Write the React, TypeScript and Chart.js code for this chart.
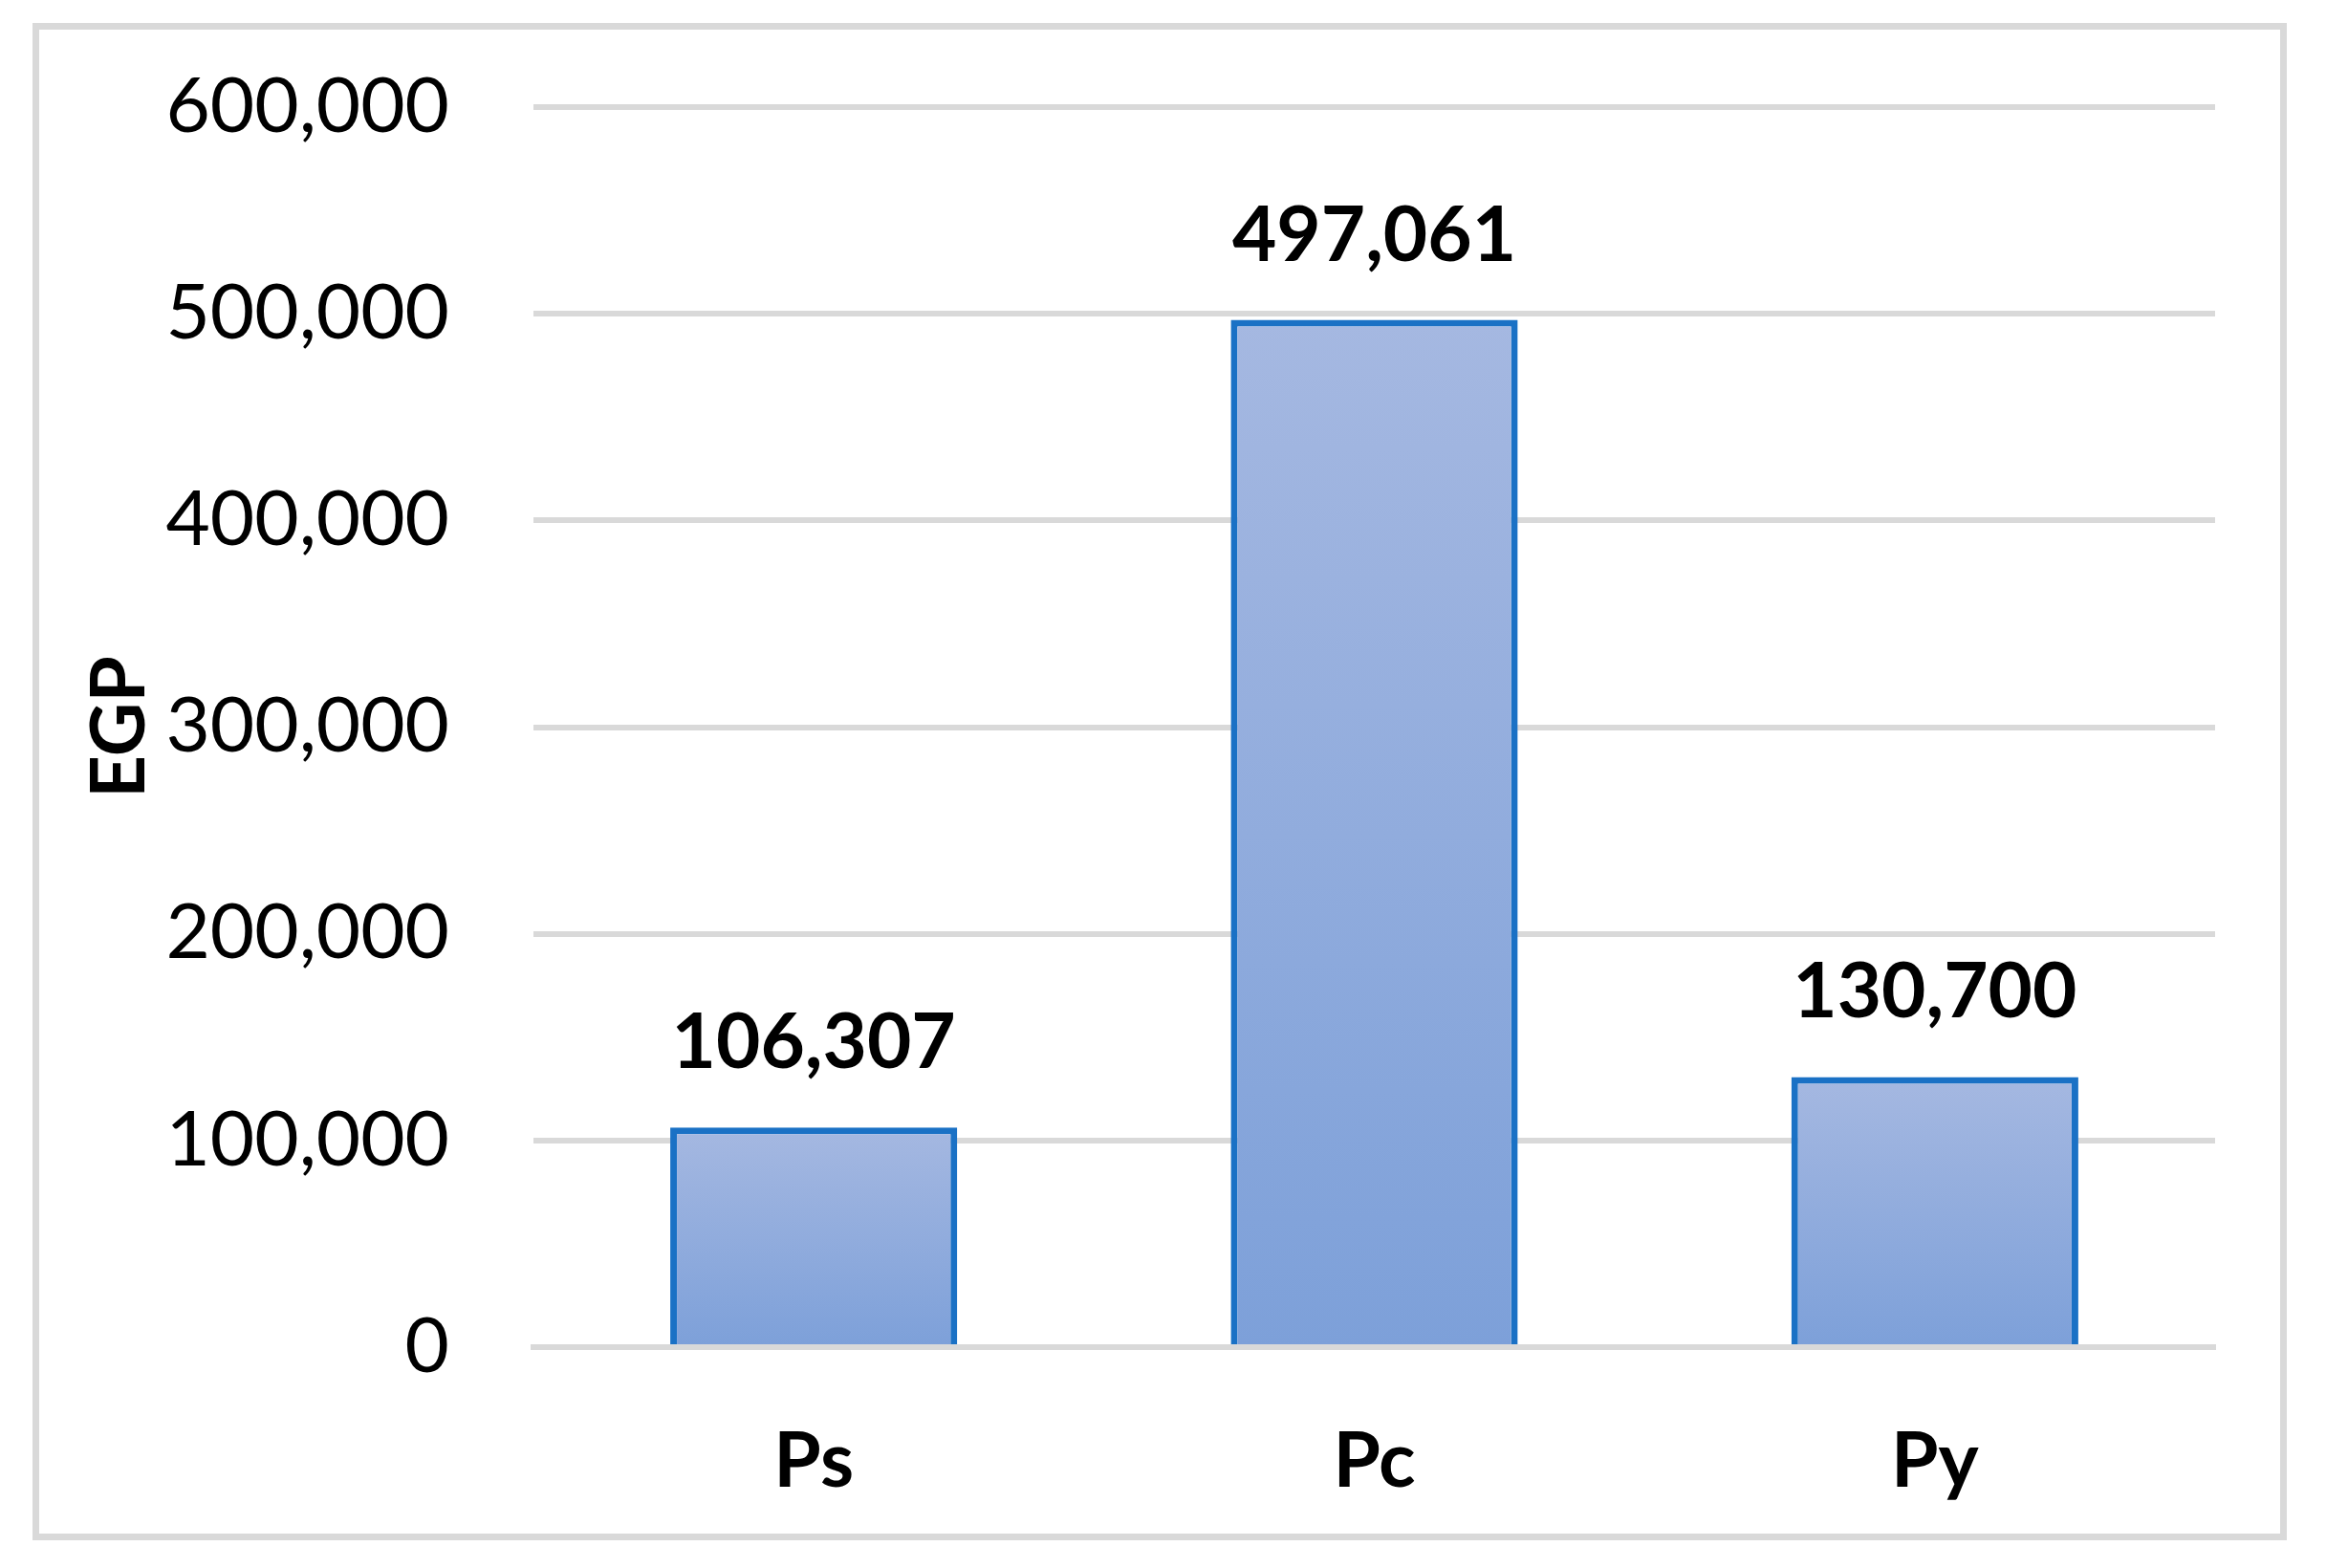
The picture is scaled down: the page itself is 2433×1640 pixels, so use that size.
import React, { useEffect, useRef } from "react";
import { Chart, registerables } from "chart.js";

Chart.register(...registerables);

const categories = ["Ps", "Pc", "Py"];
const values = [106307, 497061, 130700];
const yTicks = [0, 100000, 200000, 300000, 400000, 500000, 600000];
const yTitle = "EGP";

const FONT = "Lato, 'Open Sans', sans-serif";
const GRID = "#d9d9d9";

const fmt = (v: number) => v.toLocaleString("en-US");

const framePlugin = {
  id: "frame",
  beforeDraw(chart: any) {
    const c = chart.ctx;
    c.save();
    c.fillStyle = "#ffffff";
    c.fillRect(0, 0, chart.width, chart.height);
    c.strokeStyle = GRID;
    c.lineWidth = 7;
    c.strokeRect(37.5, 27.5, 2351, 1580);
    c.restore();
  },
};

const labelPlugin = {
  id: "valueLabels",
  afterDatasetsDraw(chart: any) {
    const c = chart.ctx;
    const y = chart.scales.y;
    const meta = chart.getDatasetMeta(0);
    c.save();
    c.font = `bold 80px ${FONT}`;
    c.fillStyle = "#000000";
    c.textAlign = "center";
    c.textBaseline = "alphabetic";
    meta.data.forEach((bar: any, i: number) => {
      const v = values[i];
      c.fillText(fmt(v), bar.x, y.getPixelForValue(v) - 62);
    });
    c.restore();
  },
};

export default function App() {
  const ref = useRef<HTMLCanvasElement>(null);
  useEffect(() => {
    if (!ref.current) return;
    const chart = new Chart(ref.current, {
      type: "bar",
      data: {
        labels: categories,
        datasets: [
          {
            data: values,
            backgroundColor: (ctx: any) => {
              const ch = ctx.chart;
              if (!ch.chartArea || ctx.type !== "data") return "#92acdd";
              const ys = ch.scales.y;
              const top = ys.getPixelForValue(ctx.raw);
              const bot = ys.getPixelForValue(0);
              const g = ch.ctx.createLinearGradient(0, top, 0, bot);
              g.addColorStop(0, "#a5b8e1");
              g.addColorStop(1, "#7da0d9");
              return g;
            },
            borderColor: "#1a71c5",
            borderWidth: 7,
            borderSkipped: "start",
            barPercentage: 1,
            categoryPercentage: 0.512,
          },
        ],
      },
      options: {
        responsive: false,
        animation: false,
        layout: { padding: { left: 37, top: 112, right: 116, bottom: 33 } },
        plugins: {
          legend: { display: false },
          tooltip: { enabled: false },
        },
        scales: {
          x: {
            z: 1,
            grid: { display: false, drawTicks: false },
            border: { display: true, color: GRID, width: 6 },
            ticks: {
              color: "#000000",
              font: { family: FONT, size: 80, weight: "bold" },
              padding: 72,
            },
            afterFit: (s: any) => {
              s.height = 1640 - 1409 - 33;
            },
          },
          y: {
            min: 0,
            max: 600000,
            afterBuildTicks: (s: any) => {
              s.ticks = yTicks.map((v) => ({ value: v }));
            },
            grid: { color: GRID, lineWidth: 6, drawTicks: false },
            border: { display: false },
            ticks: {
              color: "#000000",
              font: { family: FONT, size: 80 },
              padding: 88,
              callback: (v: any) => fmt(Number(v)),
            },
            title: {
              display: true,
              text: yTitle,
              color: "#000000",
              font: { family: FONT, size: 78, weight: "bold" },
              padding: { top: 42, bottom: 0 },
            },
            afterFit: (s: any) => {
              s.width = 558 - 37;
              s.paddingTop = 0;
              s.paddingBottom = 0;
            },
          },
        },
      },
      plugins: [framePlugin, labelPlugin],
    });
    return () => chart.destroy();
  }, []);
  return (
    <div style={{ position: "absolute", left: 0, top: 0, width: 2433, height: 1640 }}>
      <canvas ref={ref} width={2433} height={1640} style={{ display: "block" }} />
    </div>
  );
}
